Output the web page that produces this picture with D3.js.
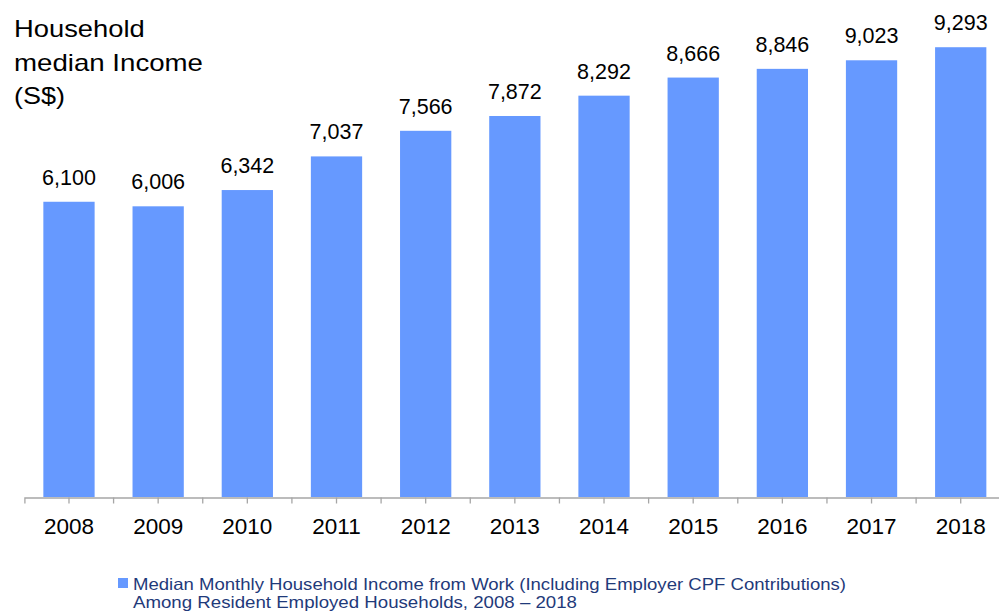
<!DOCTYPE html>
<html>
<head>
<meta charset="utf-8">
<script src="https://cdn.jsdelivr.net/npm/d3@7"></script>
<style>
  html, body { margin: 0; padding: 0; background: #fff; }
  svg { display: block; font-family: "Liberation Sans", Arial, sans-serif; }
</style>
</head>
<body>
<svg id="chart" width="999" height="615"></svg>
<script>
// Median monthly household income from work, 2008–2018
const years = ["2008", "2009", "2010", "2011", "2012", "2013", "2014", "2015", "2016", "2017", "2018"];
const income = [6100, 6006, 6342, 7037, 7566, 7872, 8292, 8666, 8846, 9023, 9293];
const titleLines = ["Household", "median Income", "(S$)"];
const legendLines = [
  "Median Monthly Household Income from Work (Including Employer CPF Contributions)",
  "Among Resident Employed Households, 2008 \u2013 2018"
];

const barColor = "#6699FF";
const axisColor = "#A6A6A6";
const baseY = 497;

const svg = d3.select("#chart");

const x = d3.scaleBand()
  .domain(years)
  .range([24.4, 1005.3])
  .paddingInner(0.425)
  .paddingOuter(0.2125);

const y = d3.scaleLinear().domain([0, 10000]).range([baseY, 13]);

const fmt = d3.format(",");

// bars
svg.append("g").selectAll("rect")
  .data(years)
  .join("rect")
  .attr("x", d => x(d))
  .attr("y", (d, i) => y(income[i]))
  .attr("width", x.bandwidth())
  .attr("height", (d, i) => baseY - y(income[i]))
  .attr("fill", barColor);

// value labels
svg.append("g").selectAll("text")
  .data(years)
  .join("text")
  .attr("x", d => x(d) + x.bandwidth() / 2)
  .attr("y", (d, i) => y(income[i]) - 17)
  .attr("text-anchor", "middle")
  .attr("font-size", 21.5)
  .attr("fill", "#000")
  .text((d, i) => fmt(income[i]));

// category axis
const axis = svg.append("g")
  .attr("transform", `translate(0,${baseY + 0.5})`)
  .call(d3.axisBottom(x).tickSize(6).tickSizeOuter(6).tickPadding(0));
axis.select(".domain").attr("stroke", axisColor).attr("stroke-width", 1.3);
axis.selectAll(".tick line").attr("stroke", axisColor).attr("stroke-width", 1.3);
axis.selectAll(".tick text")
  .attr("y", 36)
  .attr("dy", null)
  .attr("font-size", 22.5)
  .attr("font-family", "'Liberation Sans', Arial, sans-serif")
  .attr("fill", "#000");

// boundary ticks between categories
const step = x.step();
const r0 = x.range()[0];
axis.append("g").selectAll("line")
  .data(d3.range(1, years.length))
  .join("line")
  .attr("x1", k => r0 + k * step)
  .attr("x2", k => r0 + k * step)
  .attr("y1", 0)
  .attr("y2", 6)
  .attr("stroke", axisColor)
  .attr("stroke-width", 1.3);

// title
const titleWidths = [130.7, 189, 51];
const titleBase = [37, 70.5, 104];
svg.append("g").selectAll("text")
  .data(titleLines)
  .join("text")
  .attr("x", 14)
  .attr("y", (d, i) => titleBase[i])
  .attr("font-size", 24)
  .attr("fill", "#000")
  .attr("textLength", (d, i) => titleWidths[i])
  .attr("lengthAdjust", "spacingAndGlyphs")
  .text(d => d);

// legend
const legend = svg.append("g");
legend.append("rect")
  .attr("x", 118).attr("y", 578)
  .attr("width", 10).attr("height", 10)
  .attr("fill", barColor);
const legendWidths = [713, 444];
legend.selectAll("text")
  .data(legendLines)
  .join("text")
  .attr("x", 133)
  .attr("y", (d, i) => 590.3 + i * 18)
  .attr("font-size", 16.5)
  .attr("fill", "#1F3A7A")
  .attr("textLength", (d, i) => legendWidths[i])
  .attr("lengthAdjust", "spacingAndGlyphs")
  .text(d => d);
</script>
</body>
</html>
